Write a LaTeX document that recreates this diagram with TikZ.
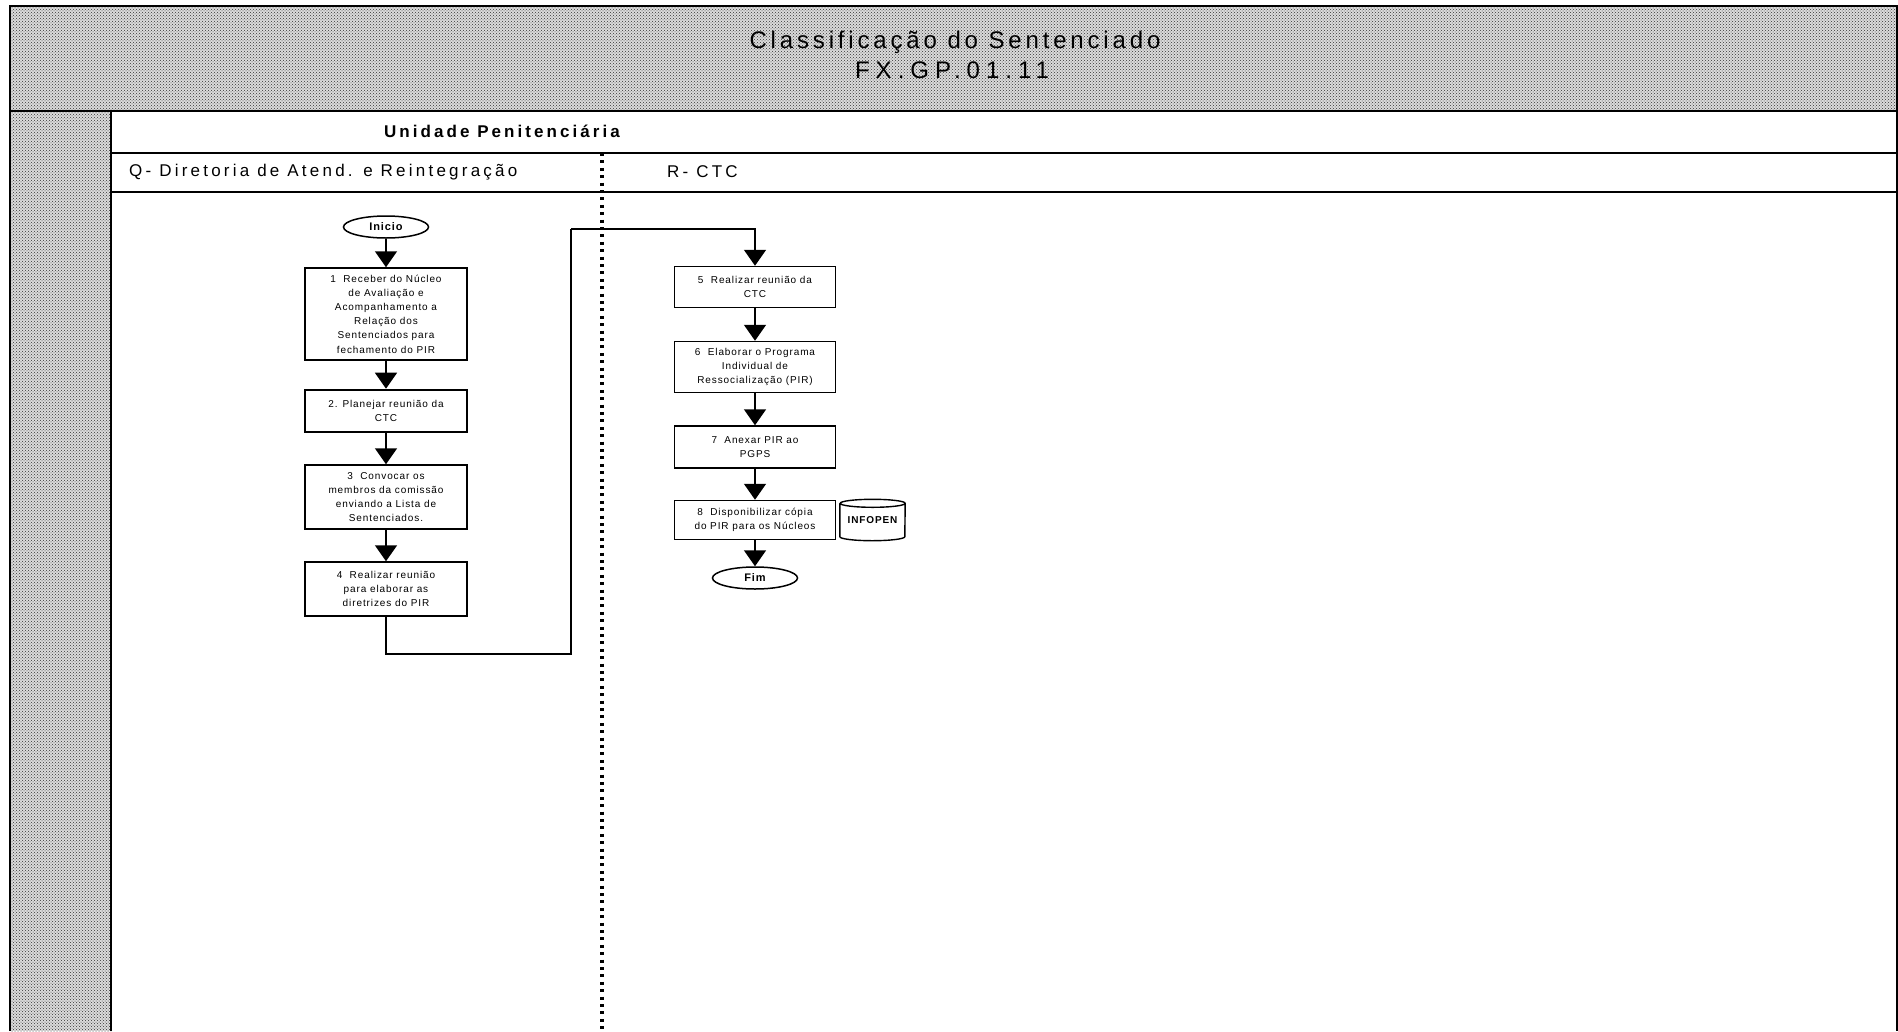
\documentclass[tikz,border=0pt]{standalone}
\usepackage{fontspec}
\setmainfont{Liberation Sans}
\usetikzlibrary{arrows.meta,patterns,shapes.geometric,calc}

\begin{document}
\begin{tikzpicture}[x=1pt,y=-1pt,
  shadeband/.style={fill=black!14, postaction={pattern=crosshatch dots, pattern color=black!80}},
  rule/.style={line width=1.6pt},
  task/.style={draw, line width=1.5pt, align=center, minimum width=162pt, inner sep=1pt,
    font=\fontsize{10}{14.2}\selectfont\addfontfeatures{LetterSpace=9}},
  terminal/.style={draw, ellipse, line width=1.5pt, minimum width=85pt, minimum height=22pt, inner sep=0pt,
    font=\bfseries\fontsize{11}{12}\selectfont\addfontfeatures{LetterSpace=8}},
  flow/.style={line width=1.6pt, -{Triangle[width=22pt,length=16pt]}},
  link/.style={line width=1.4pt},
  headtxt/.style={font=\fontsize{17}{19}\selectfont\addfontfeatures{LetterSpace=19}, inner sep=0pt},
]
\useasboundingbox (0,0) rectangle (1898,1031);

% shaded title band and left strip
\path[shadeband] (10,6) rectangle (1897,111);
\path[shadeband] (10,111) rectangle (111,1031);
\draw[rule] (10,1031) -- (10,6) -- (1897,6) -- (1897,1031);
\draw[rule] (10,111) -- (1897,111);
\draw[rule] (111,111) -- (111,1031);
\draw[rule] (111,153) -- (1897,153);
\draw[rule] (111,192) -- (1897,192);

% lane divider
\coordinate (divtop) at (602,153);
\coordinate (divbot) at (602,1031);
\draw[line width=3.2pt, dash pattern=on 3pt off 4.4pt] (divtop) -- (divbot);

% titles
\node[font=\fontsize{24}{26}\selectfont\addfontfeatures{LetterSpace=16}, inner sep=0pt] (title) at (955,42) {Classificação do Sentenciado};
\node[font=\fontsize{24}{26}\selectfont\addfontfeatures{LetterSpace=25}, inner sep=0pt] (code) at (952,70) {FX.GP.01.11};
\node[font=\bfseries\fontsize{17}{19}\selectfont\addfontfeatures{LetterSpace=18}, inner sep=0pt] (unit) at (502,131) {Unidade Penitenciária};
\node[headtxt, anchor=west] (laneQ) at (129,172) {Q- Diretoria de Atend. e Reintegração};
\node[headtxt, anchor=west] (laneR) at (667,172) {R- CTC};

% left lane
\node[terminal] (start) at (386,227) {Inicio};
\node[task, minimum height=92pt] (b1) at (386,314) {1\ \ Receber do Núcleo\\de Avaliação e\\Acompanhamento a\\Relação dos\\Sentenciados para\\fechamento do PIR};
\node[task, minimum height=42pt, line width=2.6pt] (b2) at (386,411) {2. Planejar reunião da\\CTC};
\node[task, minimum height=64pt] (b3) at (386,497) {3\ \ Convocar os\\membros da comissão\\enviando a Lista de\\Sentenciados.};
\node[task, minimum height=54pt] (b4) at (386,589) {4\ \ Realizar reunião\\para elaborar as\\diretrizes do PIR};

% right lane
\node[task, minimum width=161pt, minimum height=41pt] (b5) at (755,287) {5\ \ Realizar reunião da\\CTC};
\node[task, minimum width=161pt, minimum height=51pt] (b6) at (755,367) {6\ \ Elaborar o Programa\\Individual de\\Ressocialização (PIR)};
\node[task, minimum width=161pt, minimum height=42pt] (b7) at (755,447) {7\ \ Anexar PIR ao\\PGPS};
\node[task, minimum width=161pt, minimum height=39pt] (b8) at (755,520) {8\ \ Disponibilizar cópia\\do PIR para os Núcleos};
\node[terminal] (stop) at (755,578) {Fim};

% database
\node[minimum width=65pt, minimum height=41pt, inner sep=0pt,
  font=\bfseries\fontsize{10}{11}\selectfont\addfontfeatures{LetterSpace=9}] (db) at (872.5,520) {INFOPEN};
\draw[line width=1.4pt] ($(db.north west)+(0,4)$) -- ($(db.south west)+(0,-4)$)
  arc[start angle=180, end angle=360, x radius=32.5pt, y radius=4pt]
  -- ($(db.north east)+(0,4)$)
  arc[start angle=0, end angle=360, x radius=32.5pt, y radius=4pt];

% connectors
\draw[flow] (start) -- (b1);
\draw[flow] (b1) -- (b2);
\draw[flow] (b2) -- (b3);
\draw[flow] (b3) -- (b4);
\coordinate (t1) at (571,654);
\coordinate (t2) at (571,229);
\draw[link] (b4.south) |- (t1) -- (t2);
\draw[flow] (t2) -| (b5.north);
\draw[flow] (b5) -- (b6);
\draw[flow] (b6) -- (b7);
\draw[flow] (b7) -- (b8);
\draw[flow] (b8) -- (stop);
\end{tikzpicture}
\end{document}
